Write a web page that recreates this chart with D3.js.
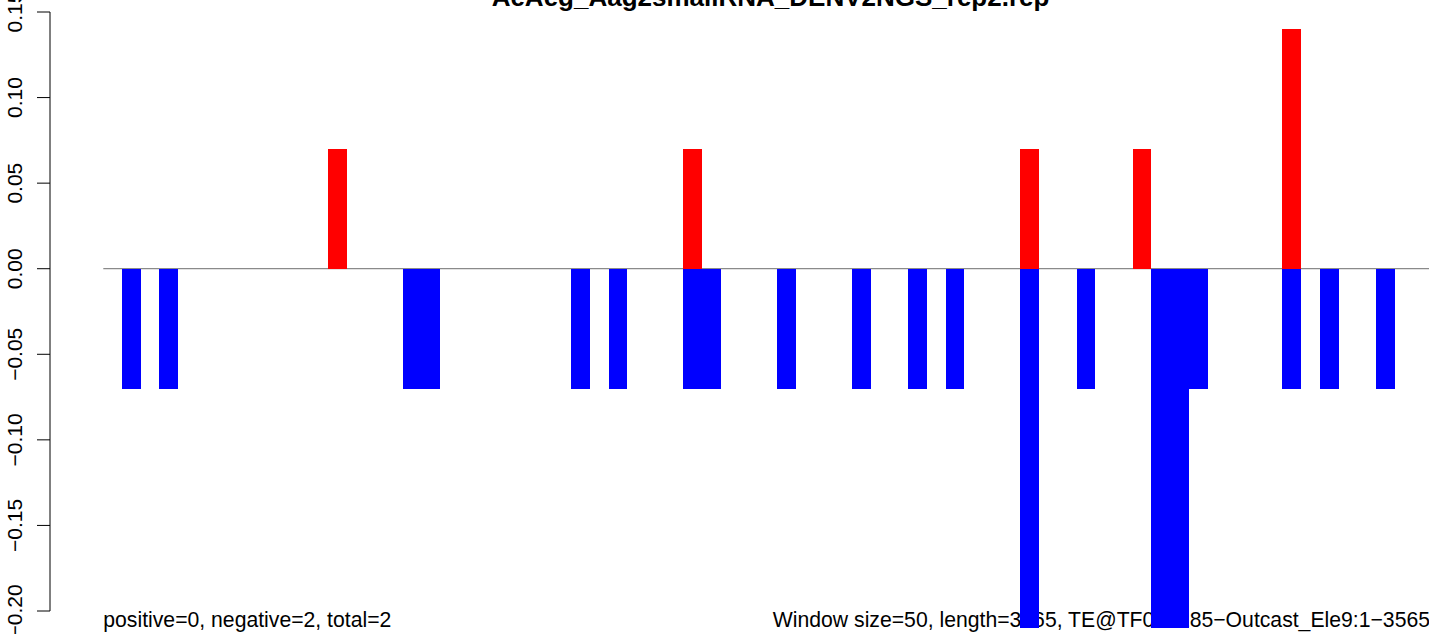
<!DOCTYPE html>
<html>
<head>
<meta charset="utf-8">
<script src="https://cdn.jsdelivr.net/npm/d3@7"></script>
<style>
  html, body { margin: 0; padding: 0; background: #fff; overflow: hidden; }
  svg { display: block; font-family: "Liberation Sans", Arial, Helvetica, sans-serif; }
</style>
</head>
<body>
<svg id="chart" width="1429" height="634"></svg>
<script>
// ---- data ----
const title = "AeAeg_Aag2smallRNA_DENV2NGS_rep2.rep";
const leftNote = "positive=0, negative=2, total=2";
const rightNote = "Window size=50, length=3565, TE@TF000185\u2212Outcast_Ele9:1\u22123565";
const windowSize = 50;
const seqLength = 3565;
// window indices (0-based) and values
const posBins   = [12, 31, 49, 55, 63];
const posValues = [0.07, 0.07, 0.07, 0.07, 0.14];
const negBins   = [1, 3, 16, 17, 25, 27, 31, 32, 36, 40, 43, 45, 49, 52, 56, 57, 58, 63, 65, 68];
const negValues = [-0.07, -0.07, -0.07, -0.07, -0.07, -0.07, -0.07, -0.07, -0.07, -0.07,
                   -0.07, -0.07, -0.21, -0.07, -0.21, -0.21, -0.07, -0.07, -0.07, -0.07];
const yTicks = [-0.20, -0.15, -0.10, -0.05, 0.00, 0.05, 0.10, 0.15];

// ---- layout ----
const svg = d3.select("#chart");
const x0 = 103.3, binPx = 18.716;
const x = d3.scaleLinear().domain([0, seqLength]).range([x0, x0 + seqLength / windowSize * binPx]);
const y = d3.scaleLinear().domain([-0.20, 0.15]).range([611, 12]);
const fmt = v => (v < 0 ? "\u2212" : "") + Math.abs(v).toFixed(2);

// title
svg.append("text")
  .attr("x", (x0 + x(seqLength)) / 2).attr("y", 5.5)
  .attr("text-anchor", "middle")
  .attr("font-weight", "bold").attr("font-size", 26)
  .text(title);

// notes (drawn before bars)
svg.append("text").attr("x", x0).attr("y", 627)
  .attr("font-size", 21.2).text(leftNote);
svg.append("text").attr("x", 1430).attr("y", 627)
  .attr("text-anchor", "end").attr("font-size", 21.2).text(rightNote);

// zero line
svg.append("line")
  .attr("x1", x0).attr("x2", 1429)
  .attr("y1", y(0)).attr("y2", y(0))
  .attr("stroke", "#8a8a8a").attr("stroke-width", 1.3);

// bars
const posData = posBins.map((b, i) => ({ b, v: posValues[i] }));
const negData = negBins.map((b, i) => ({ b, v: negValues[i] }));
const bx = d => Math.round(x(d.b * windowSize));
const bw = d => Math.round(x((d.b + 1) * windowSize)) - bx(d);
svg.append("g").attr("shape-rendering", "crispEdges")
  .selectAll("rect").data(posData).join("rect")
  .attr("x", bx).attr("width", bw)
  .attr("y", d => y(d.v))
  .attr("height", d => y(0) - y(d.v))
  .attr("fill", "#ff0000");
svg.append("g").attr("shape-rendering", "crispEdges")
  .selectAll("rect").data(negData).join("rect")
  .attr("x", bx).attr("width", bw)
  .attr("y", y(0))
  .attr("height", d => y(d.v) - y(0))
  .attr("fill", "#0000ff");

// y axis
const axisX = 50;
const ax = svg.append("g");
ax.append("line").attr("x1", axisX).attr("x2", axisX)
  .attr("y1", y(0.15)).attr("y2", y(-0.20))
  .attr("stroke", "#000").attr("stroke-width", 1);
ax.selectAll("line.tick").data(yTicks).join("line").attr("class", "tick")
  .attr("x1", axisX - 13).attr("x2", axisX)
  .attr("y1", d => y(d)).attr("y2", d => y(d))
  .attr("stroke", "#000").attr("stroke-width", 1);
ax.selectAll("text").data(yTicks).join("text")
  .attr("transform", d => `translate(22,${y(d)}) rotate(-90)`)
  .attr("text-anchor", "middle")
  .attr("font-size", 21)
  .text(d => fmt(d));
</script>
</body>
</html>
